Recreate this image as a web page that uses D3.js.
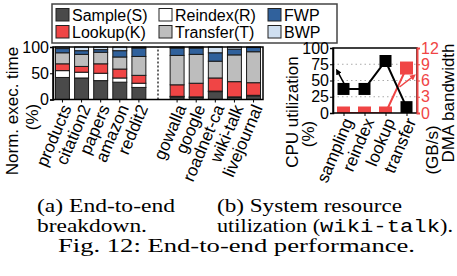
<!DOCTYPE html>
<html>
<head>
<meta charset="utf-8">
<script src="https://cdn.jsdelivr.net/npm/d3@7"></script>
<style>
  body { margin: 0; background: #fff; }
  svg { display: block; font-family: "Liberation Sans", Arial, sans-serif; }
</style>
</head>
<body>
<svg width="457" height="276"></svg>
<script>
// ---- data (a): end-to-end breakdown, % of exec time ----
var datasets = ["products", "citation2", "papers", "amazon", "reddit2", "gap",
                "gowalla", "google", "roadnet-ca", "wiki-talk", "livejournal"];
var phases = ["S", "R", "K", "T", "F", "B"];
var phaseNames = ["Sample(S)", "Reindex(R)", "FWP", "Lookup(K)", "Transfer(T)", "BWP"];
var sampleS   = [42, 41, 36, 33, 23, 0, 5, 4, 15, 4, 7];
var reindexR  = [13, 11, 14, 8, 8, 0, 1, 1, 1, 1, 1];
var lookupK   = [13, 11, 18, 17, 15, 0, 22, 26, 25, 29, 24];
var transferT = [21, 23, 22, 23, 36, 0, 56, 55, 32, 51, 59];
var fwp       = [8, 7, 5, 12, 16, 0, 14, 12, 16, 11, 8];
var bwp       = [3, 7, 5, 7, 2, 0, 2, 2, 11, 4, 1];
var yTicksA = [0, 50, 100];

// ---- data (b): system resource utilization (wiki-talk) ----
var stages = ["sampling", "reindex", "lookup", "transfer"];
var cpuUtil = [37, 37, 80, 9];     // %
var dmaBw   = [0, 0, 0, 8.3];      // GB/s
var yTicksCpu = [0, 25, 50, 75, 100];
var yTicksDma = [0, 3, 6, 9, 12];

var colors = { S: "#4a4a4a", R: "#ffffff", K: "#f04545", T: "#bdbdbd", F: "#30619c", B: "#cfdff0" };
var red = "#f04545";

var svg = d3.select("svg");

// ================= (a) stacked bars =================
var ax0 = 53, ax1 = 263, ay0 = 99.5, ay1 = 47;
var x = d3.scaleBand().domain(datasets).range([ax0, ax1]).paddingInner(0.27).paddingOuter(0.13);
var y = d3.scaleLinear().domain([0, 100]).range([ay0, ay1]);

var rows = datasets.map(function (d, i) {
  return { name: d, S: sampleS[i], R: reindexR[i], K: lookupK[i], T: transferT[i], F: fwp[i], B: bwp[i] };
}).filter(function (d) { return d.name != "gap"; });
var stacked = d3.stack().keys(phases)(rows);

var ga = svg.append("g");
ga.selectAll("g.layer")
  .data(stacked)
  .enter().append("g")
  .attr("class", "layer")
  .attr("fill", function (d) { return colors[d.key]; })
  .selectAll("rect")
  .data(function (d) { return d; })
  .enter().append("rect")
  .attr("x", function (d) { return x(d.data.name); })
  .attr("y", function (d) { return y(d[1]); })
  .attr("width", x.bandwidth())
  .attr("height", function (d) { return y(d[0]) - y(d[1]); })
  .attr("stroke", "#1a1a1a")
  .attr("stroke-width", 1);

// dotted separator in the gap slot
ga.append("line")
  .attr("x1", x("gap") + x.bandwidth() / 2).attr("x2", x("gap") + x.bandwidth() / 2)
  .attr("y1", ay0).attr("y2", ay1)
  .attr("stroke", "#000").attr("stroke-width", 1.2).attr("stroke-dasharray", "2,2");

// frame
ga.append("rect").attr("x", ax0).attr("y", ay1).attr("width", ax1 - ax0).attr("height", ay0 - ay1)
  .attr("fill", "none").attr("stroke", "#000").attr("stroke-width", 1.5);

var yAxisA = ga.append("g").attr("transform", "translate(" + ax0 + ",0)")
  .call(d3.axisLeft(y).tickValues(yTicksA).tickSize(3).tickPadding(1));
yAxisA.select(".domain").attr("stroke-width", 1.5);
yAxisA.selectAll("text").style("font-size", "16px").attr("fill", "#000");

var xAxisA = ga.append("g").attr("transform", "translate(0," + ay0 + ")")
  .call(d3.axisBottom(x).tickSize(3).tickFormat(function (d) { return d == "gap" ? "" : d; }));
xAxisA.select(".domain").remove();
xAxisA.selectAll(".tick").filter(function (d) { return d == "gap"; }).remove();
xAxisA.selectAll("text")
  .style("font-size", "17px").attr("fill", "#000")
  .attr("text-anchor", "end").attr("y", 0).attr("dy", "0.35em")
  .attr("transform", "translate(4,6) rotate(-67)");

svg.append("text").attr("text-anchor", "middle").style("font-size", "17px")
  .attr("transform", "translate(18,111) rotate(-90)").text("Norm. exec. time");
svg.append("text").attr("text-anchor", "middle").style("font-size", "17px")
  .attr("transform", "translate(38,117) rotate(-90)").text("(%)");

// legend
var lg = svg.append("g");
lg.append("rect").attr("x", 52).attr("y", 4).attr("width", 285).attr("height", 39)
  .attr("fill", "#fff").attr("stroke", "#444").attr("stroke-width", 1.5);
var legendKeys = ["S", "R", "F", "K", "T", "B"];
var legendCols = [56, 159, 268];
legendKeys.forEach(function (k, i) {
  var cx = legendCols[i % 3], cy = i < 3 ? 8.5 : 25.5;
  lg.append("rect").attr("x", cx).attr("y", cy).attr("width", 13).attr("height", 12.5)
    .attr("fill", colors[k]).attr("stroke", "#222").attr("stroke-width", 1);
  lg.append("text").attr("x", cx + 16).attr("y", cy + 12).style("font-size", "16px").text(phaseNames[i]);
});

// ================= (b) resource utilization =================
var bx0 = 333, bx1 = 417, by0 = 113, by1 = 48;
var xp = d3.scalePoint().domain(stages).range([bx0, bx1]).padding(0.5);
var yl = d3.scaleLinear().domain([0, 100]).range([by0, by1]);
var yr = d3.scaleLinear().domain([0, 12]).range([by0, by1]);

var gb = svg.append("g");
var defs = svg.append("defs");
defs.append("clipPath").attr("id", "clipb").append("rect")
  .attr("x", bx0).attr("y", by1).attr("width", bx1 - bx0).attr("height", by0 - by1);
["black", "red"].forEach(function (c) {
  defs.append("marker").attr("id", "arr-" + c).attr("viewBox", "0 0 10 10")
    .attr("refX", 5).attr("refY", 5).attr("markerWidth", 4).attr("markerHeight", 4)
    .attr("orient", "auto")
    .append("path").attr("d", "M0,0L10,5L0,10z").attr("fill", c == "red" ? red : "#000");
});

// grid
gb.selectAll("line.grid").data([25, 50, 75]).enter().append("line")
  .attr("x1", bx0).attr("x2", bx1).attr("y1", function (d) { return yl(d); }).attr("y2", function (d) { return yl(d); })
  .attr("stroke", "#aaa").attr("stroke-width", 1).attr("stroke-dasharray", "1.5,3");

var plotb = gb.append("g").attr("clip-path", "url(#clipb)");
var cpuLine = d3.line().x(function (d, i) { return xp(stages[i]); }).y(function (d) { return yl(d); });
var dmaLine = d3.line().x(function (d, i) { return xp(stages[i]); }).y(function (d) { return yr(d); });

plotb.append("path").datum(dmaBw).attr("d", dmaLine).attr("fill", "none").attr("stroke", red).attr("stroke-width", 2);
plotb.selectAll("rect.dma").data(dmaBw).enter().append("rect")
  .attr("x", function (d, i) { return xp(stages[i]) - 6.5; })
  .attr("y", function (d) { return yr(d) - 6.5; })
  .attr("width", 13).attr("height", 13).attr("fill", red);

plotb.append("path").datum(cpuUtil).attr("d", cpuLine).attr("fill", "none").attr("stroke", "#000").attr("stroke-width", 2);
plotb.selectAll("rect.cpu").data(cpuUtil).enter().append("rect")
  .attr("x", function (d, i) { return xp(stages[i]) - 6; })
  .attr("y", function (d) { return yl(d) - 6; })
  .attr("width", 12).attr("height", 12).attr("fill", "#000");

// arrows pointing to each series' axis
gb.append("line")
  .attr("x1", xp("sampling") + 1).attr("y1", yl(44))
  .attr("x2", xp("sampling") - 6).attr("y2", yl(64))
  .attr("stroke", "#000").attr("stroke-width", 1.5).attr("marker-end", "url(#arr-black)");
gb.append("line")
  .attr("x1", xp("transfer") - 7).attr("y1", yr(4.8))
  .attr("x2", xp("transfer") + 7).attr("y2", yr(6.8))
  .attr("stroke", red).attr("stroke-width", 1.5).attr("marker-end", "url(#arr-red)");

gb.append("rect").attr("x", bx0).attr("y", by1).attr("width", bx1 - bx0).attr("height", by0 - by1)
  .attr("fill", "none").attr("stroke", "#000").attr("stroke-width", 1.5);

var yAxisL = gb.append("g").attr("transform", "translate(" + bx0 + ",0)")
  .call(d3.axisLeft(yl).tickValues(yTicksCpu).tickSize(3).tickPadding(1));
yAxisL.select(".domain").attr("stroke-width", 1.5);
yAxisL.selectAll("text").style("font-size", "16px").attr("fill", "#000");

var yAxisR = gb.append("g").attr("transform", "translate(" + bx1 + ",0)")
  .call(d3.axisRight(yr).tickValues(yTicksDma).tickSize(3).tickPadding(1));
yAxisR.select(".domain").attr("stroke", red).attr("stroke-width", 2);
yAxisR.selectAll("line").attr("stroke", red);
yAxisR.selectAll("text").style("font-size", "16px").attr("fill", red);

var xAxisB = gb.append("g").attr("transform", "translate(0," + by0 + ")")
  .call(d3.axisBottom(xp).tickSize(3));
xAxisB.select(".domain").remove();
xAxisB.selectAll("text")
  .style("font-size", "17px").attr("fill", "#000")
  .attr("text-anchor", "end").attr("y", 0).attr("dy", "0.35em")
  .attr("transform", "translate(4,6) rotate(-67)");

svg.append("text").attr("text-anchor", "middle").style("font-size", "17px")
  .attr("transform", "translate(298,112) rotate(-90)").text("CPU utilization");
svg.append("text").attr("text-anchor", "middle").style("font-size", "17px")
  .attr("transform", "translate(314,134) rotate(-90)").text("(%)");
svg.append("text").attr("text-anchor", "middle").style("font-size", "17px")
  .attr("transform", "translate(438,150) rotate(-90)").text("(GB/s)");
svg.append("text").attr("text-anchor", "middle").style("font-size", "17px")
  .attr("transform", "translate(454,103) rotate(-90)").text("DMA bandwidth");

// ================= captions =================
// the source caption is set wider than plain Times, so each line is fitted to its width
var cap = svg.append("g").style("font-family", "'Liberation Serif', 'Times New Roman', serif").style("font-size", "18px");
function capLine(x0, y0, w) {
  return cap.append("text").attr("x", x0).attr("y", y0)
    .attr("textLength", w).attr("lengthAdjust", "spacingAndGlyphs");
}
capLine(37, 212, 138).text("(a) End-to-end");
capLine(37, 232, 110).text("breakdown.");
capLine(217, 212, 185).text("(b) System resource");
var t2 = capLine(217, 232, 236);
t2.append("tspan").text("utilization (");
t2.append("tspan").style("font-family", "'Liberation Mono', 'DejaVu Sans Mono', monospace").text("wiki-talk");
t2.append("tspan").text(").");
capLine(58, 252, 357).text("Fig. 12: End-to-end performance.");
</script>
</body>
</html>
